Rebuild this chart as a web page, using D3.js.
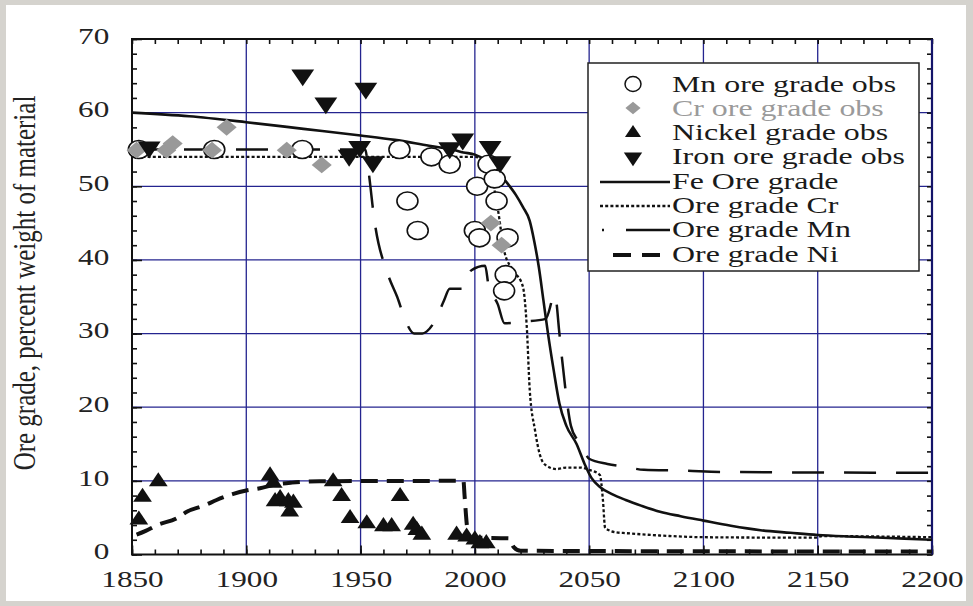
<!DOCTYPE html>
<html><head><meta charset="utf-8">
<script src="https://cdn.jsdelivr.net/npm/d3@7"></script>
<style>html,body{margin:0;padding:0;background:#d5d3ce;} svg{display:block}</style>
</head><body><svg id="c" width="973" height="606"></svg>
<script>
// ---------- data ----------
const xTicks = [1850, 1900, 1950, 2000, 2050, 2100, 2150, 2200];
const yTicks = [0, 10, 20, 30, 40, 50, 60, 70];

const feYears = [1850,1875,1900,1925,1950,1965,1980,1990,1995,2000,2005,2010,2014,2018,2021,2024,2026,2028,2030,2032,2034.5,2037,2040,2044.5,2048,2051,2055,2060,2066,2073,2081,2090,2100,2112,2125,2138,2150,2163,2176,2188,2200];
const feGrade = [60,59.5,58.7,57.8,56.9,56.3,55.5,55.0,54.6,54.3,53.5,52,50.5,48.8,47.2,45.3,42.5,39,34.5,30,25,20.5,17.5,15,12.3,10.4,9.1,8.2,7.4,6.6,5.8,5.2,4.6,3.9,3.3,2.95,2.65,2.45,2.3,2.15,2.0];

const crYears = [1850,2000,2006,2010,2013,2017.5,2021,2022.7,2024,2026.3,2028.5,2030.7,2035.8,2040,2046,2050,2054.7,2056,2057,2062,2066,2080,2100,2130,2149,2152,2175,2200];
const crGrade = [54,54,52.5,47,41,38.3,36.4,31,22.4,16.9,13.5,12.2,11.6,11.8,11.8,11.5,10.8,7.5,3.6,3.0,2.9,2.6,2.35,2.3,2.3,2.5,2.45,2.35];

const mnYears = [1850,1952,1953.5,1956,1962,1966,1970,1973.5,1977,1979,1983,1986.5,1989,1994.5,1998.5,2004.5,2006,2010,2013,2021,2031,2035,2037,2038,2040,2042,2045,2047,2050,2058,2066,2074,2090,2110,2200];
const mnGrade = [55,55,52,45.5,38,35,31.5,30,30,30.3,32,34.5,36.1,36.1,38.6,39.2,36.5,34,31.4,31.6,32,35.3,30,27,21.5,17.5,15.5,14.5,13.0,12.3,11.9,11.5,11.4,11.2,11.1];

const niYears = [1852,1856,1861,1869.5,1874,1882,1887,1894,1900,1906,1912,1920,1932,1995,1995.5,1996.5,1997.5,2015,2017,2020,2200];
const niGrade = [2.7,3.2,4.0,4.9,5.8,6.7,7.4,8.2,8.7,9.0,9.45,9.76,9.95,10,8,4,2.3,2.2,1.0,0.5,0.4];

const mnObsYear  = [1853,1886,1924.5,1967,1970.5,1975,1981,1989,2000,2001,2002,2006,2008.7,2009.5,2014.3,2013.5,2012.8];
const mnObsGrade = [55,55,55,55,48,44,54,53,44,50,43,53,51,48,43,38,35.8];

const crObsYear  = [1852,1865,1867.8,1885,1891.4,1917.7,1933,2007,2011.7];
const crObsGrade = [54.9,54.9,55.8,54.9,58,54.9,52.9,45,42];

const niObsYear  = [1853,1854.6,1861.5,1910.4,1911.8,1912.6,1914.8,1918.4,1920.6,1919,1938,1941.7,1945.4,1952.7,1960,1963.6,1967.3,1973,1974.6,1976.8,1992,1996.4,2000,2002.2,2005];
const niObsGrade = [4.7,7.8,9.9,10.7,9.7,7.2,7.6,7.2,7.0,5.8,9.9,7.9,4.9,4.2,3.8,3.8,7.9,4.0,3.3,2.65,2.65,2.4,2.0,1.5,1.5];

const feObsYear  = [1857.5,1924.7,1934.8,1952.3,1945,1949.6,1955.4,1989,1994.7,2006.7,2011];
const feObsGrade = [55.3,65.1,61.3,63.3,54.2,55.4,53.3,55.2,56.4,55.4,53.3];

const legendLabels = ["Mn ore grade obs","Cr ore grade obs","Nickel grade obs","Iron ore grade obs","Fe Ore grade","Ore grade Cr","Ore grade Mn","Ore grade Ni"];
const yTitle = "Ore grade, percent weight of material";

// ---------- drawing ----------
const W = 973, H = 606;
const svg = d3.select("#c");
svg.append("rect").attr("width", W).attr("height", H).attr("fill", "#d5d3ce");
svg.append("rect").attr("x", 6).attr("y", 5).attr("width", 960).attr("height", 596).attr("fill", "#fff");

const x = d3.scaleLinear().domain([1850, 2200]).range([132, 932]);
const y = d3.scaleLinear().domain([0, 70]).range([554.5, 39]);
const FONT = "'Liberation Serif','Times New Roman',serif";
const GRID = "#24248f";
const SX = 1.3;

// gridlines
const g = svg.append("g");
g.selectAll(".vg").data(xTicks.slice(1, -1)).enter().append("line")
  .attr("x1", d => x(d)).attr("x2", d => x(d)).attr("y1", y(70)).attr("y2", y(0))
  .attr("stroke", GRID).attr("stroke-width", 1.3);
g.selectAll(".hg").data(yTicks.slice(1, -1)).enter().append("line")
  .attr("y1", d => y(d)).attr("y2", d => y(d)).attr("x1", x(1850)).attr("x2", x(2200))
  .attr("stroke", GRID).attr("stroke-width", 1.3);

// axes with ticks
function styleAxis(sel) {
  sel.select(".domain").remove();
  sel.selectAll("line").attr("stroke", "#111").attr("stroke-width", 1.6);
}
const minorYears = d3.range(1850, 2201, 10);
const minorVals = d3.range(0, 71, 2);
svg.append("g").attr("transform", `translate(0,${y(0)})`)
  .call(d3.axisBottom(x).tickValues(minorYears).tickSize(-5).tickSizeOuter(0).tickFormat("")).call(styleAxis);
svg.append("g").attr("transform", `translate(0,${y(70)})`)
  .call(d3.axisTop(x).tickValues(minorYears).tickSize(-5).tickSizeOuter(0).tickFormat("")).call(styleAxis);
svg.append("g").attr("transform", `translate(${x(1850)},0)`)
  .call(d3.axisLeft(y).tickValues(minorVals).tickSize(-5).tickSizeOuter(0).tickFormat("")).call(styleAxis);
svg.append("g").attr("transform", `translate(${x(2200)},0)`)
  .call(d3.axisRight(y).tickValues(minorVals).tickSize(-5).tickSizeOuter(0).tickFormat("")).call(styleAxis);

// labelled major axes
const bx = svg.append("g").attr("transform", `translate(0,${y(0)})`)
  .call(d3.axisBottom(x).tickValues(xTicks).tickSize(-9).tickPadding(15).tickSizeOuter(0).tickFormat(d3.format("d")));
styleAxis(bx);
bx.selectAll("text").attr("font-family", FONT).attr("font-size", 24).attr("fill", "#222")
  .attr("transform", `scale(${SX},1)`);
const ly = svg.append("g").attr("transform", `translate(${x(1850)},0)`)
  .call(d3.axisLeft(y).tickValues(yTicks).tickSize(-10).tickPadding(16).tickSizeOuter(0));
styleAxis(ly);
ly.selectAll("text").attr("font-family", FONT).attr("font-size", 24).attr("fill", "#222")
  .attr("x", -17.5).attr("dy", "0.18em").attr("transform", `scale(${SX},1)`);

// frame
svg.append("rect").attr("x", x(1850)).attr("y", y(70)).attr("width", x(2200) - x(1850)).attr("height", y(0) - y(70))
  .attr("fill", "none").attr("stroke", "#111").attr("stroke-width", 2);
svg.append("line").attr("x1", x(2200)).attr("x2", x(2200)).attr("y1", y(70)).attr("y2", y(0))
  .attr("stroke", "#14146a").attr("stroke-width", 2.2);

// y title
svg.append("text").attr("transform", `translate(35,283) scale(${SX},1) rotate(-90)`)
  .attr("text-anchor", "middle").attr("font-family", FONT).attr("font-size", 25).attr("fill", "#222")
  .text(yTitle);

// lines
const plot = svg.append("g");
function series(years, vals) { return years.map((d, i) => [d, vals[i]]); }
const lineGen = d3.line().x(d => x(d[0])).y(d => y(d[1])).curve(d3.curveMonotoneX);
plot.append("path").datum(series(niYears, niGrade)).attr("d", lineGen)
  .attr("fill", "none").attr("stroke", "#111").attr("stroke-width", 4).attr("stroke-dasharray", "17,9");
plot.append("path").datum(series(mnYears, mnGrade)).attr("d", lineGen)
  .attr("fill", "none").attr("stroke", "#111").attr("stroke-width", 2.5).attr("stroke-dasharray", "32,20");
plot.append("path").datum(series(crYears, crGrade)).attr("d", lineGen)
  .attr("fill", "none").attr("stroke", "#111").attr("stroke-width", 2.3).attr("stroke-dasharray", "3,2.2");
plot.append("path").datum(series(feYears, feGrade)).attr("d", lineGen)
  .attr("fill", "none").attr("stroke", "#111").attr("stroke-width", 2.6);

// markers
const upTri = d3.symbol().type(d3.symbolTriangle).size(115);
const downTri = d3.symbol().type(d3.symbolTriangle).size(165);
const sq = d3.symbol().type(d3.symbolSquare).size(140);

plot.selectAll(".ni").data(series(niObsYear, niObsGrade)).enter().append("path")
  .attr("d", upTri).attr("fill", "#111")
  .attr("transform", d => `translate(${x(d[0])},${y(d[1])}) scale(1.15,1)`);
plot.selectAll(".mn").data(series(mnObsYear, mnObsGrade)).enter().append("ellipse")
  .attr("cx", d => x(d[0])).attr("cy", d => y(d[1])).attr("rx", 10.5).attr("ry", 9)
  .attr("fill", "#fff").attr("stroke", "#111").attr("stroke-width", 1.6);
plot.selectAll(".cr").data(series(crObsYear, crObsGrade)).enter().append("path")
  .attr("d", sq).attr("fill", "#999")
  .attr("transform", d => `translate(${x(d[0])},${y(d[1])}) scale(1.2,1) rotate(45)`);
plot.selectAll(".fe").data(series(feObsYear, feObsGrade)).enter().append("path")
  .attr("d", downTri).attr("fill", "#111")
  .attr("transform", d => `translate(${x(d[0])},${y(d[1])}) scale(1.17,-1)`);

// legend
const lg = svg.append("g");
lg.append("rect").attr("x", 588).attr("y", 63).attr("width", 331).attr("height", 208)
  .attr("fill", "#fff").attr("stroke", "#222").attr("stroke-width", 1.5);
const base = [92, 116, 140, 164, 189, 213, 237, 262];
lg.selectAll("text").data(legendLabels).enter().append("text")
  .attr("transform", (d, i) => `translate(672,${base[i]}) scale(1.33,1)`)
  .attr("font-family", FONT).attr("font-size", 24)
  .attr("fill", (d, i) => i === 1 ? "#9a9a9a" : "#1a1a1a").text(d => d);
lg.append("ellipse").attr("cx", 633).attr("cy", base[0] - 8).attr("rx", 8).attr("ry", 7.5)
  .attr("fill", "#fff").attr("stroke", "#111").attr("stroke-width", 1.5);
lg.append("path").attr("d", d3.symbol().type(d3.symbolSquare).size(80)).attr("fill", "#999")
  .attr("transform", `translate(633,${base[1] - 8}) scale(1.2,1) rotate(45)`);
lg.append("path").attr("d", d3.symbol().type(d3.symbolTriangle).size(85)).attr("fill", "#111")
  .attr("transform", `translate(633,${base[2] - 7}) scale(1.15,1)`);
lg.append("path").attr("d", d3.symbol().type(d3.symbolTriangle).size(110)).attr("fill", "#111")
  .attr("transform", `translate(633,${base[3] - 7}) scale(1.15,-1)`);
lg.append("line").attr("x1", 600).attr("x2", 670).attr("y1", base[4] - 7).attr("y2", base[4] - 7)
  .attr("stroke", "#111").attr("stroke-width", 2.6);
lg.append("line").attr("x1", 600).attr("x2", 670).attr("y1", base[5] - 7).attr("y2", base[5] - 7)
  .attr("stroke", "#111").attr("stroke-width", 2.3).attr("stroke-dasharray", "3,2.2");
lg.append("line").attr("x1", 602).attr("x2", 670).attr("y1", base[6] - 7).attr("y2", base[6] - 7)
  .attr("stroke", "#111").attr("stroke-width", 2.5).attr("stroke-dasharray", "2,22,44");
lg.append("line").attr("x1", 613).attr("x2", 670).attr("y1", base[7] - 7).attr("y2", base[7] - 7)
  .attr("stroke", "#111").attr("stroke-width", 4).attr("stroke-dasharray", "18,11");
</script></body></html>
